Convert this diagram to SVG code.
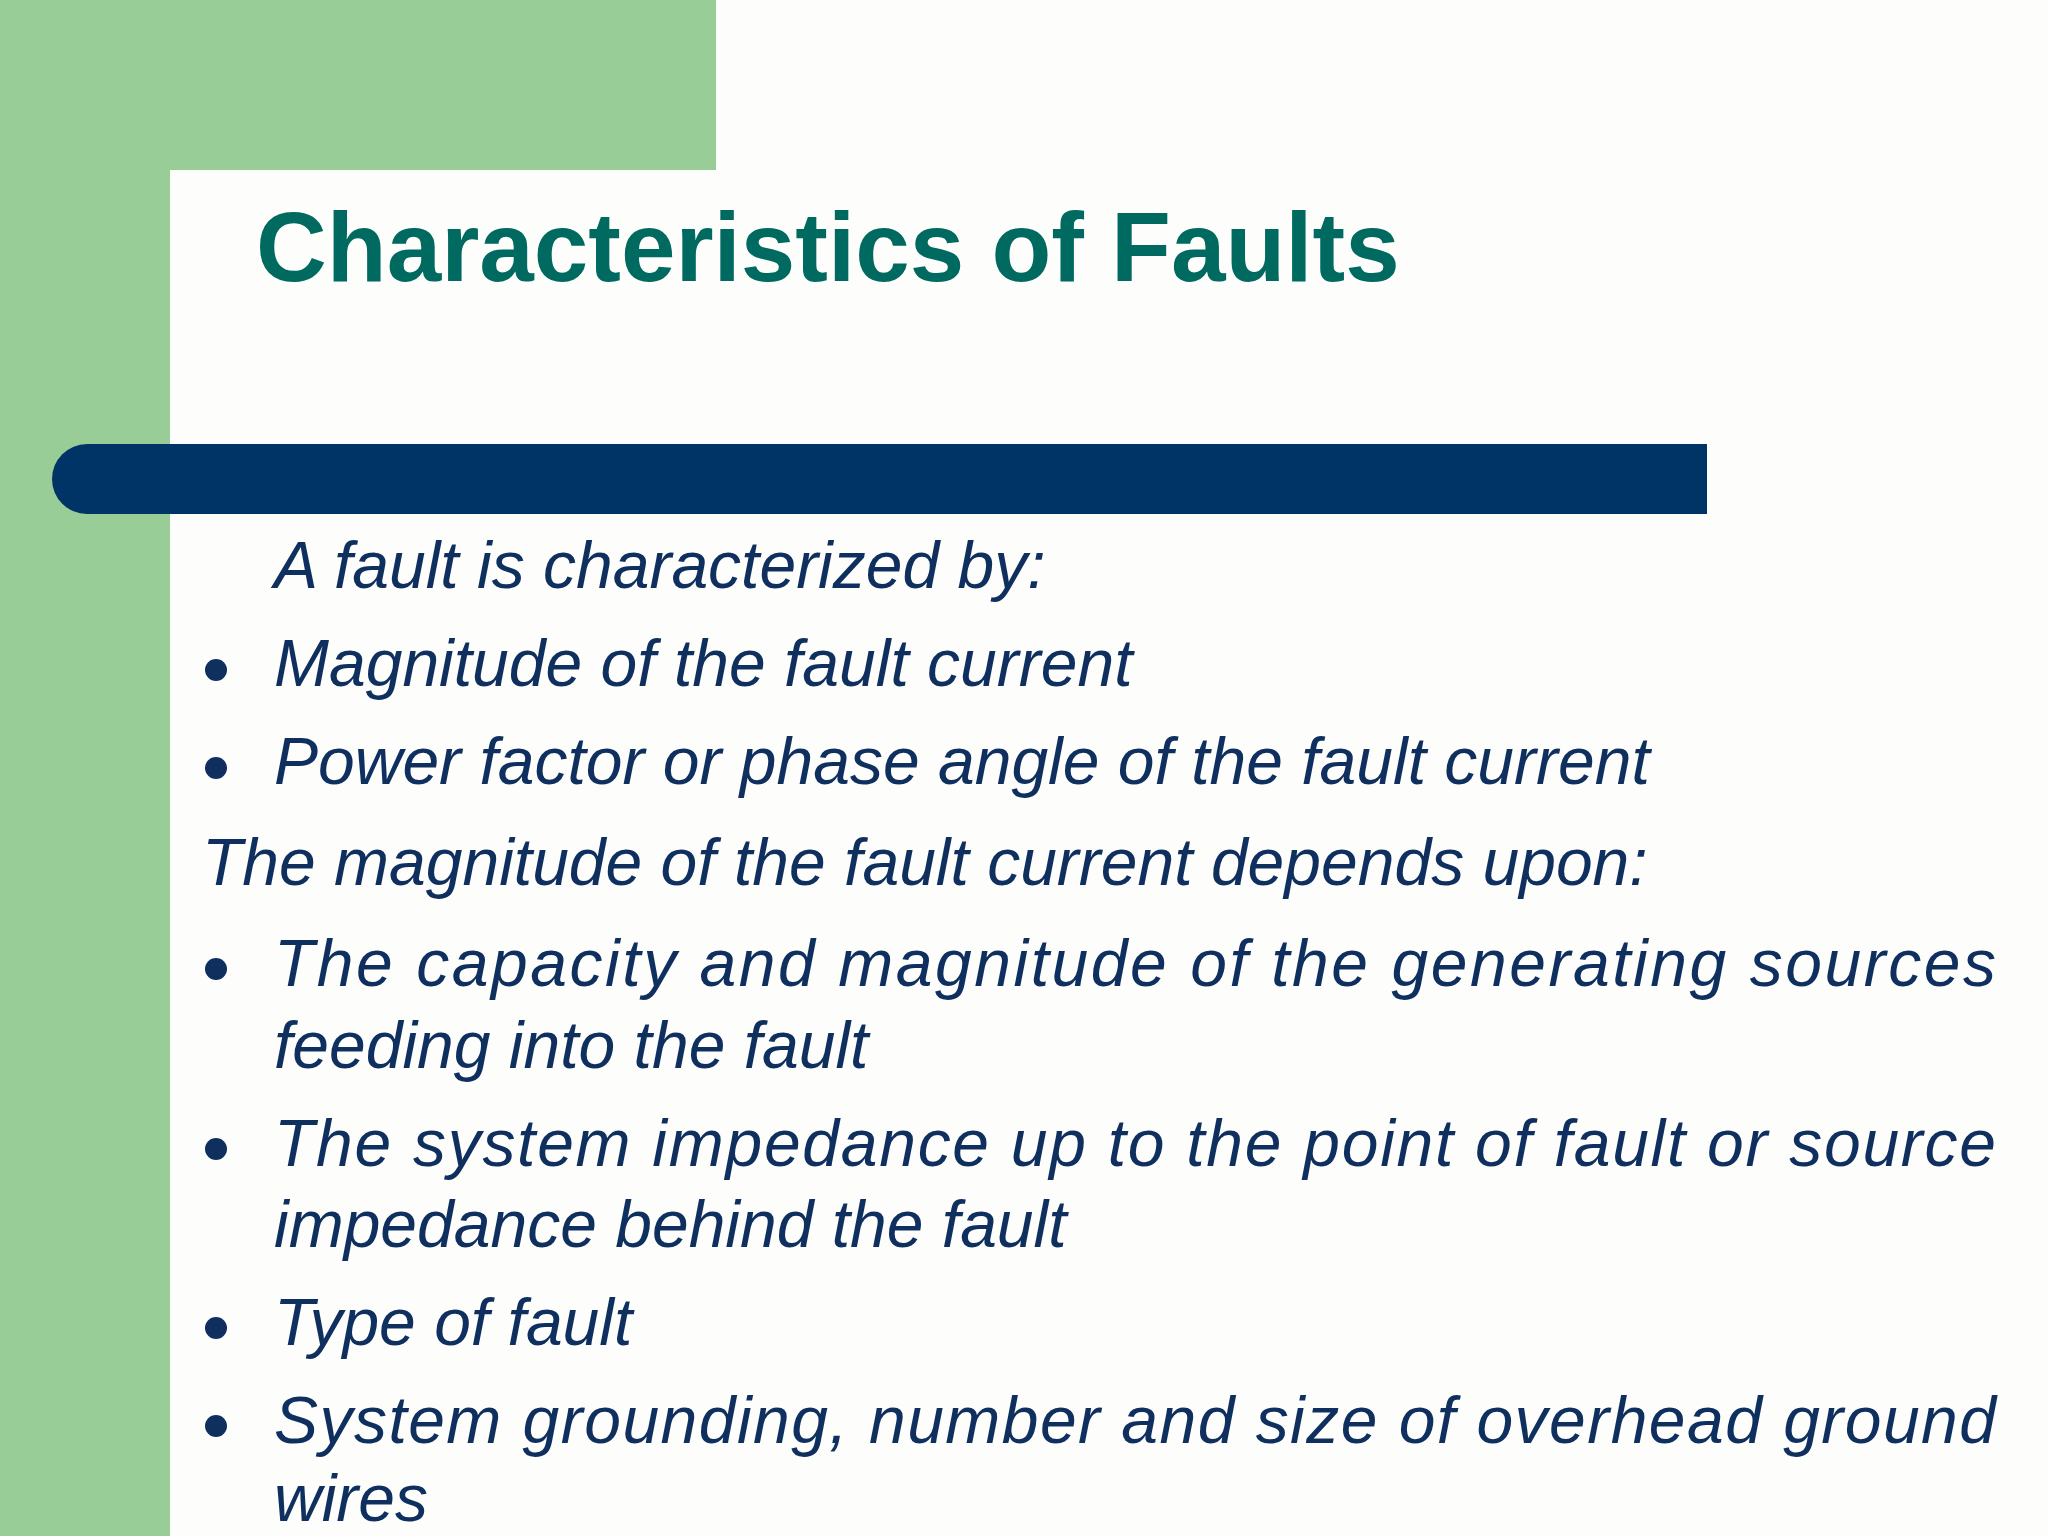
<svg xmlns="http://www.w3.org/2000/svg" width="2048" height="1536" viewBox="0 0 2048 1536">
<style>
.t{font-family:"Liberation Sans",Arial,sans-serif;font-style:italic;font-size:66px;fill:#0f2f5f}
.b{fill:#0f2f5f}
</style>
<rect width="2048" height="1536" fill="#fdfefc"/>
<rect x="0" y="0" width="716" height="170" fill="#99cd98"/>
<rect x="0" y="0" width="170" height="1536" fill="#99cd98"/>
<path d="M170 1536 V248 A78 78 0 0 1 248 170 H716 V0 H2048 V1536 Z" fill="#fdfefc"/>
<text x="256" y="281" font-family="Liberation Sans,Arial,sans-serif" font-weight="bold" font-size="98" fill="#006a60">Characteristics of Faults</text>
<path d="M87 444 H1707 V514 H87 A35 35 0 0 1 87 444 Z" fill="#003366"/>
<g id="text">
<text class="t" x="274" y="588">A fault is characterized by:</text>
<circle class="b" cx="216" cy="670" r="11"/>
<text class="t" x="274" y="686">Magnitude of the fault current</text>
<circle class="b" cx="216" cy="768" r="11"/>
<text class="t" x="274" y="784">Power factor or phase angle of the fault current</text>
<text class="t" x="202" y="885">The magnitude of the fault current depends upon:</text>
<circle class="b" cx="216" cy="969" r="11"/>
<text class="t" x="274" y="986" textLength="1722" lengthAdjust="spacing">The capacity and magnitude of the generating sources</text>
<text class="t" x="274" y="1068">feeding into the fault</text>
<circle class="b" cx="216" cy="1149" r="11"/>
<text class="t" x="274" y="1166" textLength="1722" lengthAdjust="spacing">The system impedance up to the point of fault or source</text>
<text class="t" x="274" y="1247">impedance behind the fault</text>
<circle class="b" cx="216" cy="1328" r="11"/>
<text class="t" x="274" y="1345">Type of fault</text>
<circle class="b" cx="216" cy="1426" r="11"/>
<text class="t" x="274" y="1443" textLength="1722" lengthAdjust="spacing">System grounding, number and size of overhead ground</text>
<text class="t" x="274" y="1521">wires</text>
</g>
</svg>
